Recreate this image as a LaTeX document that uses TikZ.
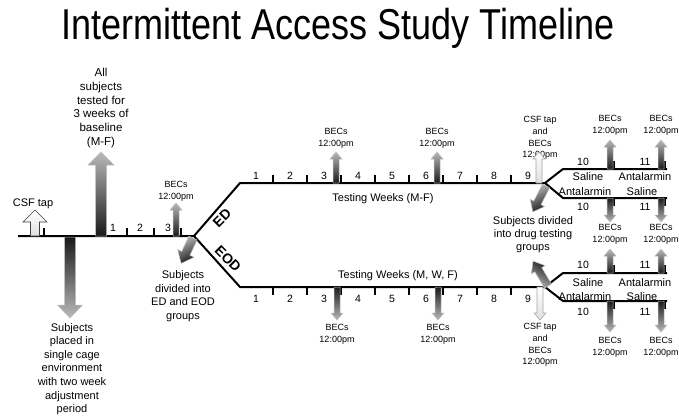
\documentclass[tikz,border=0pt]{standalone}
\usepackage{fontspec}
\setmainfont{Liberation Sans}
\usetikzlibrary{calc}

\tikzstyle{timeline} = [line width=2pt]
\tikzstyle{weektick} = [line width=2pt]
\tikzstyle{note} = [font=\fontsize{11}{13.6}\selectfont, align=center, inner sep=0pt]
\tikzstyle{becs} = [font=\fontsize{9}{11.8}\selectfont, align=center, inner sep=0pt]
\tikzstyle{weeknum} = [font=\fontsize{10.5}{12}\selectfont, inner sep=0pt]
\tikzstyle{drug} = [font=\fontsize{11}{12}\selectfont, inner sep=0pt]
\tikzstyle{group} = [font=\bfseries\fontsize{14}{14}\selectfont, inner sep=0pt]
\tikzstyle{uparr} = [draw=gray!50, line width=0.5pt, top color=gray!55, bottom color=black!90]
\tikzstyle{downarr} = [draw=gray!50, line width=0.5pt, top color=black!90, bottom color=gray!55]
\tikzstyle{csfarr} = [draw=black!75, line width=0.6pt, top color=white, bottom color=gray!25]

% block arrow: style, base, angle, length, shaft half, head half, head length
\newcommand{\blockarrow}[7]{%
  \path[#1, shift={(#2)}, rotate=#3]
    (0,-#5) -- (#4-#7,-#5) -- (#4-#7,-#6) -- (#4,0) --
    (#4-#7,#6) -- (#4-#7,#5) -- (0,#5) -- cycle;
}

\begin{document}
\begin{tikzpicture}[x=1pt, y=-1pt]
  \useasboundingbox (0,0) rectangle (679,415);

  \node[font=\fontsize{36}{36}\selectfont] (title) at (338,28)
    {\scalebox{1}[1.2]{Intermittent Access Study Timeline}};

  % timeline skeleton
  \coordinate (start) at (18,236);
  \coordinate (fork) at (194,236);
  \coordinate (edK) at (240,183);
  \coordinate (eodK) at (240,287);
  \coordinate (edFork) at (545,183);
  \coordinate (eodFork) at (545,287);
  \coordinate (edA) at (563,169);   \coordinate (edAend) at (667,169);
  \coordinate (edB) at (563,198);   \coordinate (edBend) at (667,198);
  \coordinate (eodA) at (563,273);  \coordinate (eodAend) at (667,273);
  \coordinate (eodB) at (563,301);  \coordinate (eodBend) at (667,301);

  \draw[timeline] (start) -- (fork) -- (edK) -- (edFork) -- (edA) -- (edAend);
  \draw[timeline] (edFork) -- (edB) -- (edBend);
  \draw[timeline] (fork) -- (eodK) -- (eodFork) -- (eodA) -- (eodAend);
  \draw[timeline] (eodFork) -- (eodB) -- (eodBend);

  % ticks
  \foreach \x in {44,127,154,181}
    \draw[weektick] (\x,236) -- ++(0,-8);
  \foreach \k in {1,...,8} {
    \draw[weektick] ({273+34*(\k-1)},183) -- ++(0,-8);
    \draw[weektick] ({273+34*(\k-1)},287) -- ++(0,8);
  }
  \foreach \x in {614,665} {
    \draw[weektick] (\x,169) -- ++(0,-8);
    \draw[weektick] (\x,198) -- ++(0,8);
    \draw[weektick] (\x,273) -- ++(0,-8);
    \draw[weektick] (\x,301) -- ++(0,8);
  }

  % week numbers
  \node[weeknum] (bw1) at (113,228) {1};
  \node[weeknum] (bw2) at (140,228) {2};
  \node[weeknum] (bw3) at (168,228) {3};
  \foreach \k in {1,...,9} {
    \node[weeknum] (edw\k) at ({256+34*(\k-1)},176) {\k};
    \node[weeknum] (eodw\k) at ({256+34*(\k-1)},299) {\k};
  }
  \foreach \y [count=\i] in {162,207,265,312} {
    \node[weeknum] (tw\i) at (583,\y) {10};
    \node[weeknum] (ev\i) at (645,\y) {11};
  }

  % drug conditions
  \node[drug] (edSal) at (588,177) {Saline};
  \node[drug] (edAnt) at (645,177) {Antalarmin};
  \node[drug] (edAnt2) at (585,192) {Antalarmin};
  \node[drug] (edSal2) at (642,192) {Saline};
  \node[drug] (eodSal) at (588,283) {Saline};
  \node[drug] (eodAnt) at (645,283) {Antalarmin};
  \node[drug] (eodAnt2) at (585,297) {Antalarmin};
  \node[drug] (eodSal2) at (642,297) {Saline};

  % group labels
  \node[group, rotate=45] (ed) at (222,218) {ED};
  \node[group, rotate=-45] (eod) at (228,259) {EOD};
  \node[note] (edweeks) at (383,199) {Testing Weeks (M-F)};
  \node[note] (eodweeks) at (398,276) {Testing Weeks (M, W, F)};

  % baseline arrows and notes
  \node[note] (csf) at (33,204) {CSF tap};
  \blockarrow{csfarr}{35,236}{90}{26}{4.5}{12}{12}
  \node[note, font=\fontsize{11.5}{13.8}\selectfont] (baseline) at (101,108)
    {All\\subjects\\tested for\\3 weeks of\\baseline\\(M-F)};
  \blockarrow{uparr}{101,236}{90}{84}{5.5}{13}{13}
  \blockarrow{downarr}{70,237}{-90}{81}{5.5}{12.5}{13}
  \node[note] (cage) at (72,369)
    {Subjects\\placed in\\single cage\\environment\\with two week\\adjustment\\period};
  \node[becs] (bec0) at (176,191) {BECs\\12:00pm};
  \blockarrow{uparr}{176,236}{90}{33}{3}{6}{7}

  % split into ED and EOD
  \blockarrow{uparr, shading angle=25}{193,238}{245}{28}{4.5}{9}{11}
  \node[note] (split) at (183,296) {Subjects\\divided into\\ED and EOD\\groups};

  % BECs during testing weeks
  \foreach \x/\n in {336/1,437/2} {
    \node[becs] (edbec\n) at (\x,138) {BECs\\12:00pm};
    \blockarrow{uparr}{\x,183}{90}{31}{3}{6}{7}
  }
  \foreach \x/\n in {337/1,438/2} {
    \blockarrow{downarr}{\x,287}{-90}{33}{3}{6}{7}
    \node[becs] (eodbec\n) at (\x,334) {BECs\\12:00pm};
  }

  % CSF tap at end of week 9
  \node[becs] (edcsf) at (540,138) {CSF tap\\and\\BECs\\12:00pm};
  \blockarrow{csfarr, draw=gray!70}{539,183}{90}{31}{3}{6}{7}
  \blockarrow{csfarr, draw=gray!70}{540,287}{-90}{33}{3}{6}{7}
  \node[becs] (eodcsf) at (540,345) {CSF tap\\and\\BECs\\12:00pm};

  % drug testing split
  \blockarrow{uparr, shading angle=25}{546,186}{243}{29}{4}{8}{10}
  \blockarrow{uparr, shading angle=150}{548,286}{121}{29}{4}{8}{10}
  \node[note, font=\fontsize{11}{13}\selectfont] (drugsplit) at (533,235)
    {Subjects divided\\into drug testing\\groups};

  % BECs in weeks 10 and 11
  \foreach \x/\n in {610/1,661/2} {
    \node[becs] (topbec\n) at (\x,125) {BECs\\12:00pm};
    \blockarrow{uparr}{\x,169}{90}{29}{3}{6}{7}
    \blockarrow{downarr}{\x,198}{-90}{24}{3}{6}{7}
    \node[becs] (midbec\n) at (\x,234) {BECs\\12:00pm};
    \blockarrow{uparr}{\x,273}{90}{24}{3}{6}{7}
    \blockarrow{downarr}{\x,301}{-90}{31}{3}{6}{7}
    \node[becs] (lowbec\n) at (\x,347) {BECs\\12:00pm};
  }
\end{tikzpicture}
\end{document}
